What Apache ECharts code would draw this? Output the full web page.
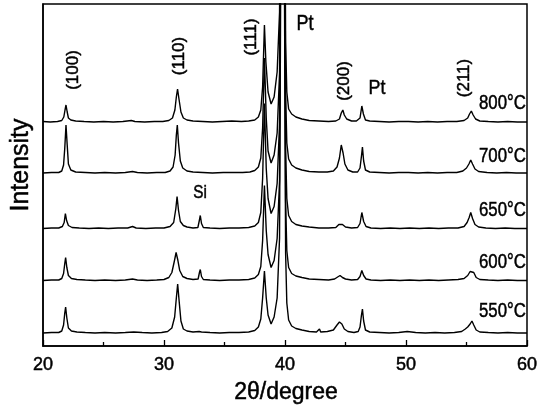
<!DOCTYPE html>
<html>
<head>
<meta charset="utf-8">
<script src="https://cdn.jsdelivr.net/npm/echarts@6/dist/echarts.min.js"></script>
<style>
  html, body { margin: 0; padding: 0; background: #fff; }
  #main { width: 543px; height: 412px; }
</style>
</head>
<body>
<div id="main"></div>
<script>
// XRD patterns, [2theta, intensity above own baseline] (arbitrary units)
const c800 = [[20.0,0.5],[20.6,0],[21.2,0.5],[21.55,1.5],[21.72,5],[21.82,12],[21.9,17],[22.0,10],[22.1,4],[22.3,2],[22.7,1],[23.4,0.5],[24.2,0],[25.0,0.5],[25.8,0],[26.6,0.5],[27.3,1.5],[27.6,0.5],[28.4,0],[29.2,0.5],[29.9,0.5],[30.4,1.5],[30.7,4],[30.9,12],[31.02,25],[31.12,33],[31.25,22],[31.4,10],[31.6,4],[31.9,2],[32.4,1],[33.2,0.5],[34.0,0],[34.8,0.5],[35.6,1],[36.4,0.5],[37.0,1],[37.5,2],[37.8,5],[38.0,12],[38.15,35],[38.3,97],[38.42,60],[38.6,30],[38.85,18],[39.1,25],[39.35,50],[39.55,110],[39.7,500],[39.9,500],[40.05,80],[40.15,30],[40.3,13],[40.55,8],[40.9,5],[41.4,3],[42.0,1.5],[42.8,1],[43.6,0.5],[44.2,1],[44.5,3],[44.65,9],[44.78,12],[44.9,7],[45.1,3],[45.5,1],[45.9,1],[46.2,4],[46.35,16],[46.48,8],[46.65,2],[47.0,1],[47.8,0.5],[48.6,0],[49.4,0.5],[50.2,0.5],[51.0,0],[51.8,0.5],[52.6,0],[53.4,0.5],[54.2,0.5],[54.8,1.5],[55.1,4],[55.25,8],[55.4,11],[55.55,7],[55.75,3],[56.1,1],[56.8,0.5],[57.6,0],[58.4,0.5],[59.2,0],[60.0,0]];
const c700 = [[20.0,0],[20.7,0.5],[21.3,0.5],[21.55,2],[21.7,8],[21.8,25],[21.9,48],[22.0,28],[22.1,9],[22.3,3],[22.7,1],[23.5,0.5],[24.3,0],[25.1,0.5],[26.0,0],[26.8,0.5],[27.4,1.5],[27.8,0.5],[28.6,0],[29.4,0.5],[30.1,0.5],[30.5,2],[30.75,6],[30.92,18],[31.02,38],[31.1,48],[31.2,30],[31.35,12],[31.55,5],[31.9,2],[32.4,1],[33.2,0.5],[34.0,0],[34.9,0.5],[35.7,0.5],[36.5,0.5],[37.1,1],[37.5,2.5],[37.8,6],[38.0,15],[38.15,45],[38.3,115],[38.45,55],[38.6,22],[38.85,10],[39.1,18],[39.35,40],[39.55,100],[39.7,500],[39.9,500],[40.05,80],[40.15,30],[40.3,14],[40.55,8],[40.9,5],[41.4,3],[42.0,1.5],[42.8,1],[43.5,1],[44.0,2],[44.3,6],[44.5,15],[44.65,28],[44.8,20],[44.95,9],[45.2,3],[45.6,1],[46.0,1],[46.2,5],[46.33,18],[46.4,26],[46.5,12],[46.65,3],[47.0,1],[47.8,0.5],[48.6,0],[49.4,0.5],[50.2,0.5],[51.0,0],[51.8,0.5],[52.6,0],[53.4,0.5],[54.2,0.5],[54.7,2],[55.0,5],[55.2,9],[55.35,13],[55.5,9],[55.7,4],[56.0,1.5],[56.7,0.5],[57.5,0],[58.3,0.5],[59.1,0],[60.0,0]];
const c650 = [[20.0,0],[20.7,0.5],[21.3,0.5],[21.6,2],[21.75,6],[21.85,15],[21.95,8],[22.1,3],[22.4,1],[23.0,0.5],[23.8,0],[24.6,0.5],[25.4,0],[26.2,0.5],[27.0,0.5],[27.4,2],[27.7,0.5],[28.5,0],[29.3,0.5],[30.0,0.5],[30.5,2],[30.8,6],[30.98,20],[31.08,32],[31.2,18],[31.35,7],[31.6,3],[31.9,1.5],[32.4,0.5],[32.8,1],[32.92,8],[33.0,13],[33.1,5],[33.25,1],[33.8,0.5],[34.6,0],[35.4,0.5],[36.2,0.5],[37.0,1],[37.5,2.5],[37.8,6],[38.0,16],[38.15,50],[38.3,125],[38.45,60],[38.6,30],[38.85,15],[39.1,22],[39.35,45],[39.55,105],[39.7,500],[39.9,500],[40.05,80],[40.15,30],[40.3,13],[40.55,7],[40.9,4],[41.4,2.5],[42.0,1.5],[42.8,0.5],[43.6,0.5],[44.2,1],[44.45,4],[44.6,6],[44.75,4],[45.0,1.5],[45.5,0.5],[46.0,1],[46.2,5],[46.35,16],[46.5,7],[46.7,2],[47.1,0.5],[47.9,0],[48.7,0.5],[49.5,0],[50.3,0.5],[51.1,0],[51.9,0.5],[52.7,0],[53.5,0.5],[54.3,0.5],[54.8,2],[55.05,6],[55.22,11],[55.35,16],[55.5,10],[55.7,4],[56.0,1.5],[56.6,0.5],[57.4,0],[58.2,0.5],[59.0,0],[60.0,0]];
const c600 = [[20.0,0],[20.7,0.5],[21.3,0.5],[21.55,2],[21.7,7],[21.8,17],[21.87,23],[21.97,13],[22.1,5],[22.35,2],[22.8,1],[23.5,0.5],[24.3,0],[25.1,0.5],[26.0,0],[26.8,0.5],[27.4,1.5],[27.8,0.5],[28.6,0],[29.4,0.5],[30.0,1],[30.4,3],[30.65,8],[30.85,19],[31.0,28],[31.15,20],[31.3,10],[31.55,4],[31.9,2],[32.4,1],[32.82,1.5],[32.93,8],[33.0,11],[33.1,4],[33.25,1],[33.8,0.5],[34.6,0],[35.4,0.5],[36.2,0.5],[37.0,1],[37.5,2.5],[37.8,6],[38.0,14],[38.15,40],[38.3,95],[38.45,50],[38.6,26],[38.85,13],[39.1,20],[39.35,42],[39.55,100],[39.7,500],[39.9,500],[40.05,80],[40.15,30],[40.3,13],[40.55,7],[40.9,4.5],[41.4,3],[42.0,1.5],[42.8,1],[43.6,0.5],[44.1,1.5],[44.35,3.5],[44.55,5],[44.75,3],[45.0,1.5],[45.5,0.5],[46.0,1],[46.2,4],[46.35,10],[46.5,5],[46.7,1.5],[47.1,0.5],[47.9,0],[48.7,0.5],[49.5,0],[50.3,0.5],[51.1,0],[51.9,0.5],[52.7,0],[53.5,0.5],[54.3,1],[54.8,2],[55.1,5],[55.3,9],[55.45,11],[55.6,8],[55.8,3],[56.1,1],[56.8,0.5],[57.6,0],[58.4,0.5],[59.2,0],[60.0,0]];
const c550 = [[20.0,0],[20.7,0.5],[21.3,0.5],[21.55,2],[21.7,8],[21.8,20],[21.87,26],[21.97,15],[22.1,5],[22.35,2],[22.8,1],[23.5,0.5],[24.3,0],[25.1,0.5],[26.0,0],[26.8,0.5],[27.5,1],[28.2,0.5],[29.0,0],[29.8,0.5],[30.3,1.5],[30.65,5],[30.88,16],[31.02,35],[31.13,49],[31.25,32],[31.4,12],[31.6,4],[31.9,2],[32.4,1],[32.9,1.5],[33.0,3],[33.1,1],[33.8,0.5],[34.6,0],[35.4,0.5],[36.2,0.5],[37.0,1],[37.5,2.5],[37.8,6],[38.0,14],[38.15,35],[38.3,62],[38.45,35],[38.6,18],[38.85,9],[39.1,16],[39.35,35],[39.55,95],[39.7,500],[39.9,500],[40.05,80],[40.15,30],[40.3,13],[40.55,7],[40.9,4.5],[41.4,3],[42.0,1.5],[42.6,1],[42.85,4],[42.95,1],[43.5,1.5],[44.0,3],[44.3,8],[44.5,11],[44.7,9],[44.9,4],[45.2,1.5],[45.7,0.5],[46.05,1.5],[46.2,6],[46.32,18],[46.4,24],[46.5,12],[46.65,3],[47.0,1],[47.8,0.5],[48.6,0],[49.4,0.5],[50.1,1.5],[50.8,0.5],[51.6,0],[52.4,0.5],[53.2,0],[54.0,0.5],[54.6,1.5],[54.9,4],[55.1,6],[55.3,9],[55.45,12],[55.6,8],[55.8,3],[56.1,1],[56.8,0.5],[57.6,0],[58.4,0.5],[59.2,0],[60.0,0]];

const temps = ['800°C', '700°C', '650°C', '600°C', '550°C'];
const offsets = [224, 173, 117.5, 65.5, 13];   // stacking shift of each pattern
const curves = [c800, c700, c650, c600, c550];

const chart = echarts.init(document.getElementById('main'));

const font = 'Liberation Sans, Arial, sans-serif';

// text helper; sx squeezes the glyphs a bit, the scan uses a narrow face,
// a thin outline gives the heavier look of the scanned type
function txt(text, x, y, size, rot, sx, align) {
  return {
    type: 'text', x: x, y: y, rotation: rot || 0, scaleX: sx || 1, z: 10,
    style: {
      text: text, fill: '#000', font: size + 'px ' + font,
      stroke: '#000', lineWidth: 0.5,
      textAlign: align || 'center', textVerticalAlign: 'middle'
    }
  };
}

const R = Math.PI / 2;
const graphics = [
  txt('Intensity', 21, 165, 25, R),
  txt('2θ/degree', 286, 393, 23),
  txt('(100)', 73, 70, 17, R),
  txt('(110)', 179, 56, 17, R),
  txt('(111)', 251, 37, 17, R),
  txt('Pt', 305, 24, 22, 0, 0.82),
  txt('(200)', 344, 81, 17, R),
  txt('Pt', 377, 88, 21, 0, 0.85),
  txt('(211)', 464, 78, 17, R),
  txt('Si', 200, 193, 18, 0, 0.85)
];
const tempY = [103, 156, 210, 262, 311];
temps.forEach(function (t, i) {
  graphics.push(txt(t, 479, tempY[i], 20, 0, 0.84, 'left'));
});

chart.setOption({
  animation: false,
  grid: { left: 43, right: 16, top: 4, bottom: 66, show: true, borderColor: '#000', borderWidth: 1.5 },
  xAxis: {
    type: 'value', min: 20, max: 60, interval: 10,
    axisLine: { lineStyle: { color: '#000', width: 1.5 } },
    axisTick: { inside: true, length: 6, lineStyle: { color: '#000', width: 1.3 } },
    minorTick: { show: true, splitNumber: 2, length: 4, lineStyle: { color: '#000', width: 1.3 } },
    axisLabel: {
      color: '#000', fontSize: 18, fontFamily: font, margin: 10,
      textBorderColor: '#000', textBorderWidth: 0.5
    },
    splitLine: { show: false }
  },
  yAxis: {
    type: 'value', min: 0, max: 342,
    axisLine: { show: true, lineStyle: { color: '#000', width: 1.5 } },
    axisTick: { show: false },
    axisLabel: { show: false },
    splitLine: { show: false }
  },
  series: curves.map(function (c, i) {
    return {
      type: 'line', name: temps[i], symbol: 'none', clip: true,
      lineStyle: { color: '#000', width: 1.4 },
      data: c.map(function (p) { return [p[0], p[1] + offsets[i]]; })
    };
  }),
  graphic: graphics
});
</script>
</body>
</html>
